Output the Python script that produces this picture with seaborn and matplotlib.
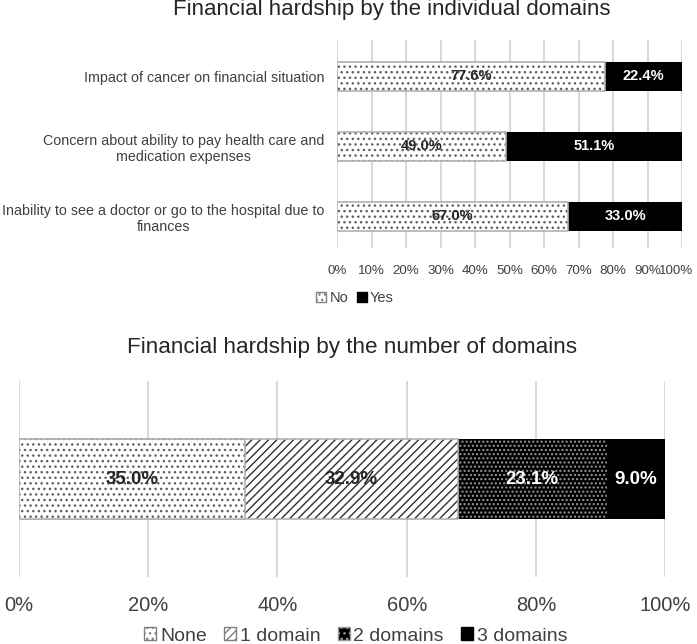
import numpy as np
import pandas as pd
import seaborn as sns
import matplotlib.pyplot as plt
import matplotlib.transforms as mtransforms
from matplotlib.patches import Patch
from matplotlib.colors import to_rgba

# ---- data ----
domains = [
    "Impact of cancer on financial situation",
    "Concern about ability to pay health care and\nmedication expenses",
    "Inability to see a doctor or go to the hospital due to\nfinances",
]
no_pct = [77.6, 49.0, 67.0]
yes_pct = [22.4, 51.1, 33.0]

n_domains = ["None", "1 domain", "2 domains", "3 domains"]
n_pct = [35.0, 32.9, 23.1, 9.0]

top_ticks = list(range(0, 101, 10))
bottom_ticks = list(range(0, 101, 20))

sns.set_style("white")
plt.rcParams["font.family"] = ["Liberation Sans", "DejaVu Sans"]
plt.rcParams["hatch.linewidth"] = 1.0

GRID = "#d9d9d9"
TXT = "#404040"
OUTLINE = "#b0b0b0"


def style_patch(p, face, hatch, hcolor, edge, lw):
    p.set_facecolor(face)
    p.set_edgecolor(edge)
    p.set_linewidth(lw)
    p.set_hatch(hatch)
    if hasattr(p, "set_hatchcolor"):
        p.set_hatchcolor(hcolor)
    else:
        p._hatch_color = to_rgba(hcolor)


fig = plt.figure(figsize=(6.97, 6.44), dpi=100)

# ---- top chart: individual domains ----
ax1 = fig.add_axes([0.4835, 0.615, 0.495, 0.323])
totals = [n + y for n, y in zip(no_pct, yes_pct)]
df_top = pd.DataFrame({"domain": domains, "no": no_pct, "yes": yes_pct, "total": totals})

# black "Yes" bars drawn full length, dotted "No" bars laid over them
sns.barplot(data=df_top, x="total", y="domain", color="black", width=0.41,
            orient="h", ax=ax1, zorder=2)
n_black = len(ax1.patches)
sns.barplot(data=df_top, x="no", y="domain", color="white", width=0.41,
            orient="h", ax=ax1, zorder=3)
for p in ax1.patches[:n_black]:
    style_patch(p, "black", None, "black", "black", 0)
for p in ax1.patches[n_black:]:
    style_patch(p, "white", "...", "#606060", OUTLINE, 1.2)

for i, (n, y) in enumerate(zip(no_pct, yes_pct)):
    ax1.text(n / 2, i, f"{n:.1f}%", ha="center", va="center", fontsize=10.5,
             fontweight="bold", color="#262626", zorder=5)
    ax1.text(n + (100 - n) / 2, i, f"{y:.1f}%", ha="center", va="center",
             fontsize=10.5, fontweight="bold", color="white", zorder=5)

ax1.set_xlim(0, 100)
ax1.set_ylim(2.45, -0.52)
ax1.set_xticks(top_ticks)
ax1.set_xticklabels([f"{t}%" for t in top_ticks], fontsize=9.6, color=TXT)
ax1.tick_params(axis="y", labelsize=10.3, labelcolor=TXT, length=0, pad=9)
for lab in ax1.get_yticklabels():
    lab.set_multialignment("center")
ax1.tick_params(axis="x", length=0, pad=12)
# keep the "100%" label inside the figure edge
last = ax1.get_xticklabels()[-1]
last.set_transform(last.get_transform()
                   + mtransforms.ScaledTranslation(-4 / 72, 0, fig.dpi_scale_trans))
ax1.set_xlabel("")
ax1.set_ylabel("")
ax1.grid(axis="x", color=GRID, linewidth=1.5, zorder=0)
ax1.set_axisbelow(True)
sns.despine(ax=ax1, left=True, bottom=True)

fig.text(392 / 697, 1 - 10 / 644, "Financial hardship by the individual domains",
         ha="center", va="center", fontsize=16, color="#262626")

h_top = [Patch(facecolor="white", edgecolor="#808080", hatch="...", label="No"),
         Patch(facecolor="black", edgecolor="black", label="Yes")]
fig.legend(handles=h_top, loc="center", bbox_to_anchor=(355 / 697, 1 - 298 / 644),
           ncol=2, frameon=False, fontsize=10.5, handlelength=0.7, handleheight=0.7,
           handletextpad=0.2, columnspacing=0.6, labelcolor=TXT)

# ---- bottom chart: number of domains ----
ax2 = fig.add_axes([0.0273, 0.104, 0.927, 0.304])
cum = np.cumsum(n_pct)

styles = [
    ("white", "...", "#606060", OUTLINE, 1.2),
    ("white", "////", "#303030", OUTLINE, 1.2),
    ("black", "....", "#9a9a9a", "black", 0),
    ("black", None, "black", "black", 0),
]
# draw cumulative bars from longest to shortest so each segment shows
for k in range(len(n_pct) - 1, -1, -1):
    before = len(ax2.patches)
    sns.barplot(x=[cum[k]], y=[""], color="white", width=0.408, orient="h",
                ax=ax2, zorder=2 + (len(n_pct) - k))
    for p in ax2.patches[before:]:
        style_patch(p, *styles[k])

starts = np.concatenate([[0], cum[:-1]])
label_colors = ["#262626", "#262626", "white", "white"]
for s, v, c in zip(starts, n_pct, label_colors):
    ax2.text(s + v / 2, 0, f"{v:.1f}%", ha="center", va="center", fontsize=13.5,
             fontweight="bold", color=c, zorder=10)

ax2.set_xlim(0, 100)
ax2.set_ylim(0.5, -0.5)
ax2.set_xticks(bottom_ticks)
ax2.set_xticklabels([f"{t}%" for t in bottom_ticks], fontsize=14.5, color=TXT)
ax2.set_yticks([])
ax2.tick_params(axis="x", length=0, pad=14)
ax2.set_xlabel("")
ax2.set_ylabel("")
ax2.grid(axis="x", color=GRID, linewidth=1.5, zorder=0)
ax2.set_axisbelow(True)
sns.despine(ax=ax2, left=True, bottom=True)

fig.text(352 / 697, 1 - 347 / 644, "Financial hardship by the number of domains",
         ha="center", va="center", fontsize=16.2, color="#262626")

h_bot = [Patch(facecolor="white", edgecolor="#808080", hatch="...", label="None"),
         Patch(facecolor="white", edgecolor="#808080", hatch="////", label="1 domain"),
         Patch(facecolor="black", edgecolor="#9a9a9a", hatch="...", label="2 domains"),
         Patch(facecolor="black", edgecolor="black", label="3 domains")]
fig.legend(handles=h_bot, loc="center", bbox_to_anchor=(356 / 697, 1 - 636 / 644),
           ncol=4, frameon=False, fontsize=14, handlelength=0.6, handleheight=0.6,
           handletextpad=0.2, columnspacing=0.9, labelcolor=TXT)

fig.savefig("out.png", dpi=100)
